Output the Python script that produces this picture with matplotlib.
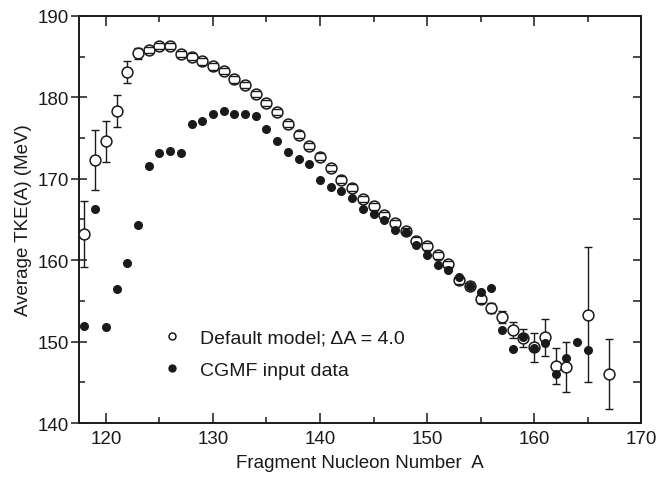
import matplotlib
matplotlib.use("Agg")
import matplotlib.pyplot as plt
from matplotlib import ticker
from matplotlib.lines import Line2D

# Default model (open circles) with error bars
model_A = [118, 119, 120, 121, 122, 123, 124, 125, 126, 127, 128, 129, 130,
           131, 132, 133, 134, 135, 136, 137, 138, 139, 140, 141, 142, 143,
           144, 145, 146, 147, 148, 149, 150, 151, 152, 153, 154, 155, 156,
           157, 158, 159, 160, 161, 162, 163, 165, 167]
model_tke = [163.2, 172.3, 174.6, 178.3, 183.1, 185.4, 185.8, 186.3, 186.3,
             185.3, 185.0, 184.4, 183.8, 183.2, 182.2, 181.5, 180.4, 179.3,
             178.2, 176.7, 175.4, 174.0, 172.7, 171.3, 169.9, 168.9, 167.5,
             166.6, 165.5, 164.5, 163.6, 162.4, 161.7, 160.6, 159.5, 157.5,
             156.8, 155.2, 154.1, 153.0, 151.4, 150.4, 149.3, 150.5, 147.0,
             146.9, 153.3, 146.0]
model_err = [4.1, 3.7, 2.5, 2.0, 1.3, 0.7, 0.4, 0.4, 0.4, 0.4, 0.4, 0.4, 0.4,
             0.4, 0.4, 0.4, 0.4, 0.4, 0.4, 0.4, 0.4, 0.4, 0.4, 0.4, 0.4, 0.4,
             0.4, 0.4, 0.4, 0.4, 0.4, 0.4, 0.4, 0.4, 0.4, 0.4, 0.4, 0.5, 0.6,
             0.7, 1.0, 1.1, 1.8, 2.3, 2.2, 3.1, 8.3, 4.3]

# CGMF input data (filled circles)
cgmf_A = [118, 119, 120, 121, 122, 123, 124, 125, 126, 127, 128, 129, 130,
          131, 132, 133, 134, 135, 136, 137, 138, 139, 140, 141, 142, 143,
          144, 145, 146, 147, 148, 149, 150, 151, 152, 153, 154, 155, 156,
          157, 158, 159, 160, 161, 162, 163, 164, 165]
cgmf_tke = [151.9, 166.3, 151.8, 156.4, 159.6, 164.3, 171.6, 173.1, 173.4,
            173.2, 176.7, 177.1, 177.9, 178.3, 177.9, 177.9, 177.7, 176.1,
            174.6, 173.3, 172.4, 171.8, 169.9, 169.0, 168.5, 167.6, 166.3,
            165.7, 164.9, 163.7, 163.4, 161.8, 160.6, 159.4, 158.8, 157.9,
            156.8, 156.1, 156.6, 151.4, 149.1, 150.5, 149.2, 149.8, 146.0,
            148.0, 150.0, 149.0]

INK = '#1a1a1a'

plt.rcParams['font.family'] = ['Liberation Sans', 'DejaVu Sans']

fig = plt.figure(figsize=(6.59, 4.81), dpi=100, facecolor='white')
ax = fig.add_axes([0.12, 0.1185, 0.853, 0.8465])

# error bars + open markers
ax.errorbar(model_A, model_tke, yerr=model_err, fmt='o', color=INK,
            markerfacecolor='white', markeredgecolor=INK, markersize=7.8,
            markeredgewidth=1.1, ecolor=INK, elinewidth=1.0, capsize=0,
            zorder=3)
# caps on top of the markers (small errors show inside the circles)
ax.errorbar(model_A, model_tke, yerr=model_err, fmt='none', ecolor=INK,
            elinewidth=0, capsize=3, capthick=1.0, zorder=3.5)
ax.plot(cgmf_A, cgmf_tke, 'o', color=INK, markersize=5.5, zorder=4)

ax.set_xlim(117.5, 170)
ax.set_ylim(140, 190)

ax.xaxis.set_major_locator(ticker.MultipleLocator(10))
ax.xaxis.set_minor_locator(ticker.MultipleLocator(5))
ax.yaxis.set_major_locator(ticker.MultipleLocator(10))
ax.yaxis.set_minor_locator(ticker.MultipleLocator(5))
ax.tick_params(which='both', direction='in', top=True, right=False,
               colors=INK, labelsize=13.5, width=1.1)
ax.tick_params(which='major', length=7)
ax.tick_params(which='minor', length=4.5)
ax.tick_params(axis='y', which='major', direction='inout', length=11)
ax.tick_params(axis='x', pad=5)
ax.tick_params(axis='y', pad=2)

# right side: inward ticks only
sec = ax.secondary_yaxis('right')
sec.yaxis.set_major_locator(ticker.MultipleLocator(10))
sec.yaxis.set_minor_locator(ticker.MultipleLocator(5))
sec.tick_params(which='both', direction='in', labelright=False,
                colors=INK, width=1.1)
sec.tick_params(which='major', length=6)
sec.tick_params(which='minor', length=6)

for a in (ax, sec):
    for spine in a.spines.values():
        spine.set_color(INK)
        spine.set_linewidth(1.4)

ax.set_xlabel('Fragment Nucleon Number  A', fontsize=13.5, color=INK,
              labelpad=5)
ax.set_ylabel('Average TKE(A) (MeV)', fontsize=13.5, color=INK, labelpad=4)

# Legend
handles = [
    Line2D([], [], linestyle='none', marker='o', markersize=5,
           markerfacecolor='white', markeredgecolor=INK, markeredgewidth=1.1),
    Line2D([], [], linestyle='none', marker='o', markersize=5, color=INK),
]
labels = ['Default model; \u0394A = 4.0', 'CGMF input data']
leg = ax.legend(handles, labels, loc='lower left',
                bbox_to_anchor=(0.113, 0.065), frameon=False, fontsize=14,
                handletextpad=0.85, labelspacing=0.75, handlelength=1.2)
for t in leg.get_texts():
    t.set_color(INK)

fig.savefig('out.png', dpi=100, facecolor='white')
